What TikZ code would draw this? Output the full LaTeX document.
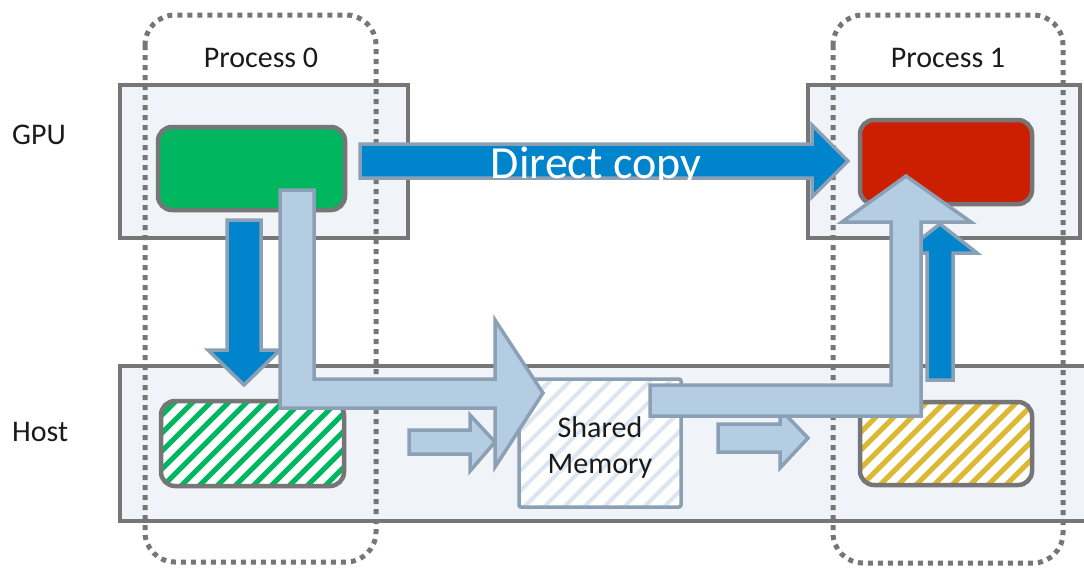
\documentclass[tikz,border=0pt]{standalone}
\usepackage{fontspec}
\setmainfont{Carlito}
\definecolor{boxgray}{HTML}{767676}
\definecolor{panelfill}{HTML}{F0F3F8}
\definecolor{devgreen}{HTML}{00B760}
\definecolor{devred}{HTML}{CC1E00}
\definecolor{hatchyellow}{HTML}{DDB833}
\definecolor{copyblue}{HTML}{0084CC}
\definecolor{stagefill}{HTML}{B4CDE2}
\definecolor{arrowedge}{HTML}{8BA0B5}
\definecolor{shmhatch}{HTML}{DCE6F1}
\definecolor{labelink}{HTML}{1A1A1A}
\tikzset{
  panel/.style={draw=boxgray, fill=panelfill, line width=4.5pt},
  proc/.style={draw=boxgray, line width=5pt, dash pattern=on 5pt off 5pt, rounded corners=30pt},
  buffer/.style={draw=boxgray, line width=4.5pt, rounded corners=14pt},
  darrow/.style={draw=arrowedge, fill=copyblue, line width=3.5pt, miter limit=20},
  larrow/.style={draw=arrowedge, fill=stagefill, line width=3.5pt, miter limit=20},
  lbl/.style={font=\fontsize{30}{36}\selectfont, inner sep=0pt, text=labelink},
  stripe/.style={line width=5pt}
}
\begin{document}
\begin{tikzpicture}[x=1pt, y=-1pt]
  \clip (0,0) rectangle (1084,568);

  % GPU and host panels
  \draw[panel] (120,85) rectangle (408,238);
  \draw[panel] (808,85) rectangle (1080,238);
  \draw[panel] (120,366) rectangle (1095,521);

  % process outlines
  \draw[proc] (145,15) rectangle (376,562);
  \draw[proc] (833,15) rectangle (1063,563);

  % device buffers
  \draw[buffer, fill=devgreen] (158,127) rectangle (345,210);
  \draw[buffer, fill=devred] (860,120) rectangle (1032,204);

  % host buffers (hatched)
  \begin{scope}
    \clip[rounded corners=14pt] (161,401) rectangle (344,486);
    \fill[white] (161,401) rectangle (344,486);
    \foreach \k in {-110,-92,...,200}
      \draw[stripe, devgreen] (161+\k,490) -- ++(110,-110);
  \end{scope}
  \draw[buffer] (161,401) rectangle (344,486);

  \begin{scope}
    \clip[rounded corners=14pt] (860,402) rectangle (1032,485);
    \fill[white] (860,402) rectangle (1032,485);
    \foreach \k in {-110,-92,...,200}
      \draw[stripe, hatchyellow] (860+\k,489) -- ++(110,-110);
  \end{scope}
  \draw[buffer] (860,402) rectangle (1032,485);

  % shared memory segment
  \begin{scope}
    \clip (519,379) rectangle (681,507);
    \fill[white] (519,379) rectangle (681,507);
    \foreach \k in {-140,-120,...,180}
      \draw[shmhatch, line width=4pt] (519+\k,512) -- ++(140,-140);
  \end{scope}
  \draw[arrowedge, line width=3.5pt, rounded corners=2pt] (519,379) rectangle (681,507);
  \node[lbl, anchor=base] (shm1) at (600,437) {Shared};
  \node[lbl, anchor=base] (shm2) at (600,473) {Memory};

  % staging copies through host memory
  \draw[darrow] (227,220) -- (261,220) -- (261,350) -- (280,350) -- (244,385)
                -- (208,350) -- (227,350) -- cycle;
  \draw[darrow] (927,380) -- (927,253) -- (903,253) -- (940,224) -- (977,253)
                -- (953,253) -- (953,380) -- cycle;
  \draw[larrow] (409,430) -- (470,430) -- (470,415) -- (495,442) -- (470,471)
                -- (470,454) -- (409,454) -- cycle;
  \draw[larrow] (718,424) -- (780,424) -- (780,409) -- (808,438) -- (780,468)
                -- (780,452) -- (718,452) -- cycle;
  \draw[larrow] (280,190) -- (314,190) -- (314,379) -- (495,379) -- (495,320)
                -- (543,393) -- (495,467) -- (495,408) -- (280,408) -- cycle;
  \draw[larrow] (650,385) -- (891,385) -- (891,222) -- (842,222) -- (906,176)
                -- (971,222) -- (921,222) -- (921,416) -- (650,416) -- cycle;

  % direct peer-to-peer copy
  \draw[darrow] (360,144) -- (812,144) -- (812,125) -- (848,161) -- (812,197)
                -- (812,178) -- (360,178) -- cycle;
  \begin{scope}
    \clip (360,120) rectangle (812,180);
    \node[font=\fontsize{46}{50}\selectfont, inner sep=0pt, text=white, anchor=base]
      (direct) at (596,178) {Direct copy};
  \end{scope}

  % labels
  \node[lbl, anchor=base] (p0) at (261,67) {Process 0};
  \node[lbl, anchor=base] (p1) at (948,67) {Process 1};
  \node[lbl, anchor=base west] (gpu) at (12,144) {GPU};
  \node[lbl, anchor=base west] (host) at (12,441) {Host};
\end{tikzpicture}
\end{document}
